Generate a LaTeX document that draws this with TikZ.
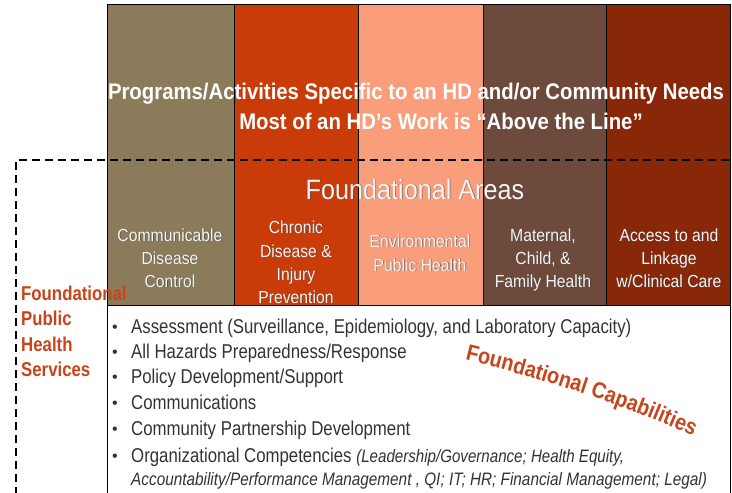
\documentclass[tikz,border=0pt]{standalone}
\usepackage{fontspec}
\usepackage{graphicx}
\setmainfont{Liberation Sans}
\newfontfamily\titlefont[FakeStretch=0.9]{Liberation Sans}
\newfontfamily\labfont[FakeStretch=0.9]{Liberation Sans}
\newfontfamily\leftfont[FakeStretch=0.84]{Liberation Sans}
\newfontfamily\itemfont[FakeStretch=0.84]{Liberation Sans}
\newfontfamily\capfont[FakeStretch=0.88]{Liberation Sans}
\usetikzlibrary{decorations.text}
\definecolor{colA}{HTML}{8B7B5A}
\definecolor{colB}{HTML}{C93C0A}
\definecolor{colC}{HTML}{F99D7B}
\definecolor{colD}{HTML}{6E4A3D}
\definecolor{colE}{HTML}{882808}
\definecolor{fpcol}{HTML}{C8441A}
\definecolor{itemgray}{HTML}{333333}
\newcommand\shlabel[3]{%
  \node[areashadow, xshift=0.8pt, yshift=-0.8pt] (#1s) at #2 {#3};
  \node[area] (#1) at #2 {#3};}
\begin{document}
\begin{tikzpicture}[x=1pt,y=1pt,
  colbox/.style={draw=black, line width=0.8pt},
  ttl/.style={text=white, font=\titlefont\bfseries\fontsize{22.6}{26}\selectfont, inner sep=0, anchor=base},
  area/.style={text=gray!8, font=\labfont\fontsize{17.5}{20}\selectfont, inner sep=0, anchor=base},
  areashadow/.style={area, text=black!75, opacity=0.6},
  fps/.style={text=fpcol, font=\leftfont\bfseries\fontsize{20}{24}\selectfont, inner sep=0, anchor=base west},
  item/.style={text=itemgray, font=\itemfont\fontsize{20}{24}\selectfont, inner sep=0, anchor=base west},
  bul/.style={text=itemgray, font=\fontsize{16}{20}\selectfont, inner sep=0, anchor=base},
  dashline/.style={draw=black, line width=1.3pt, dash pattern=on 8pt off 5pt}
]
\useasboundingbox (0,0) rectangle (732,-493);
\fill[white] (0,0) rectangle (732,-493);
% columns
\node[colbox, fill=colA, minimum width=127pt, minimum height=301pt, inner sep=0, anchor=north west] (c1) at (107,-4) {};
\node[colbox, fill=colB, minimum width=124pt, minimum height=301pt, inner sep=0, anchor=north west] (c2) at (234,-4) {};
\node[colbox, fill=colC, minimum width=125pt, minimum height=301pt, inner sep=0, anchor=north west] (c3) at (358,-4) {};
\node[colbox, fill=colD, minimum width=123pt, minimum height=301pt, inner sep=0, anchor=north west] (c4) at (483,-4) {};
\node[colbox, fill=colE, minimum width=124pt, minimum height=301pt, inner sep=0, anchor=north west] (c5) at (606,-4) {};
% capabilities box (bottom edge lies below the picture)
\node[draw=black, line width=0.8pt, fill=white, minimum width=623pt, minimum height=200pt, inner sep=0, anchor=north west] (capbox) at (107,-305) {};
% dashed boundary
\coordinate (d0) at (16,-495);
\coordinate (d1) at (16,-160);
\coordinate (d2) at (730,-160);
\draw[dashline] (d0) -- (d1) -- (d2);
% titles
\node[ttl] (t1) at (416,-99) {Programs/Activities Specific to an HD and/or Community Needs};
\node[ttl] (t2) at (441,-129) {Most of an HD’s Work is “Above the Line”};
\shlabel{fa}{(415,-199)}{\fontsize{28}{32}\selectfont Foundational Areas}
% column labels
\shlabel{a1}{(170,-241)}{Communicable}
\shlabel{a2}{(170,-264)}{Disease}
\shlabel{a3}{(170,-287)}{Control}
\shlabel{b1}{(296,-233)}{Chronic}
\shlabel{b2}{(296,-257)}{Disease \&}
\shlabel{b3}{(296,-280)}{Injury}
\shlabel{b4}{(296,-303)}{Prevention}
\shlabel{e1}{(420,-247)}{Environmental}
\shlabel{e2}{(420,-271)}{Public Health}
\shlabel{m1}{(543,-241)}{Maternal,}
\shlabel{m2}{(543,-264)}{Child, \&}
\shlabel{m3}{(543,-287)}{Family Health}
\shlabel{k1}{(669,-241)}{Access to and}
\shlabel{k2}{(669,-264)}{Linkage}
\shlabel{k3}{(669,-287)}{w/Clinical Care}
% left label
\node[fps] (f1) at (21,-300) {Foundational};
\node[fps] (f2) at (21,-325) {Public};
\node[fps] (f3) at (21,-351) {Health};
\node[fps] (f4) at (21,-376) {Services};
% bullets
\foreach \y/\n in {333/1,358/2,383/3,409/4,435/5,462/6}{
  \node[bul] (bu\n) at (115,-\y+1) {•};
}
\node[item] (i1) at (131,-333) {Assessment (Surveillance, Epidemiology, and Laboratory Capacity)};
\node[item] (i2) at (131,-358) {All Hazards Preparedness/Response};
\node[item] (i3) at (131,-383) {Policy Development/Support};
\node[item] (i4) at (131,-409) {Communications};
\node[item] (i5) at (131,-435) {Community Partnership Development};
\node[item] (i6) at (131,-462) {Organizational Competencies {\fontsize{18}{20}\selectfont\itshape (Leadership/Governance; Health Equity,}};
\node[item, font=\itemfont\itshape\fontsize{18}{20}\selectfont] (i7) at (131,-485) {\scalebox{1.014}[1]{Accountability/Performance Management , QI; IT; HR; Financial Management; Legal)}};
% curved label
\coordinate (cs) at (465,-360);
\coordinate (ce) at (712,-445);
\path[decorate, decoration={text along path, text align=left, text color=fpcol,
  text={|\capfont\bfseries\fontsize{22.5}{26}\selectfont|Foundational Capabilities}}]
  (cs) .. controls (540,-378) and (625,-404) .. (ce);
\end{tikzpicture}
\end{document}
